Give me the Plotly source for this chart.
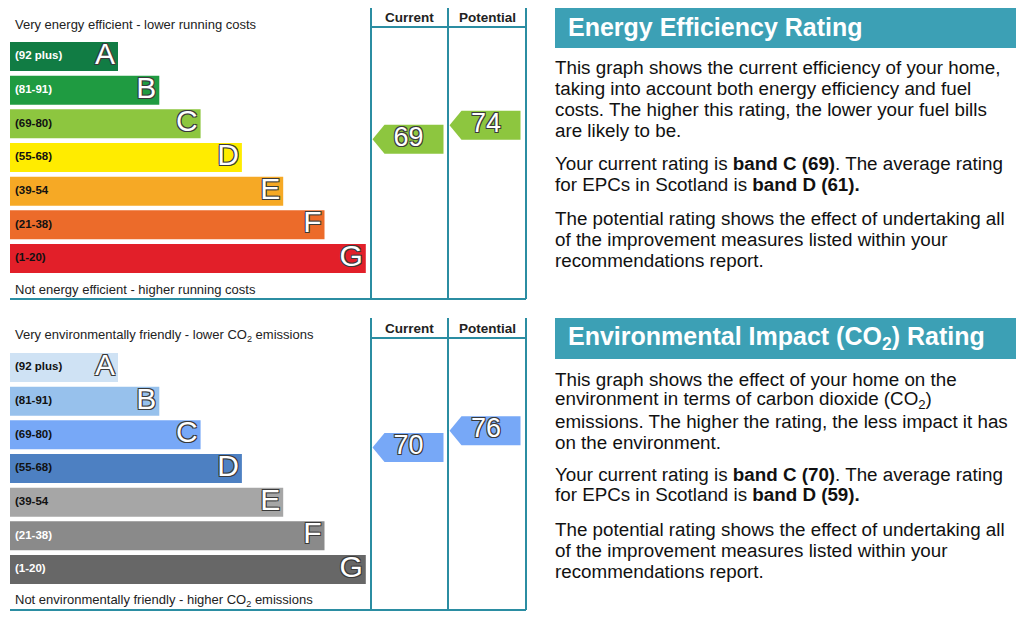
import plotly.graph_objects as go

FONT = "Liberation Sans, Arial, sans-serif"

# ---- data ----
BANDS = ["A", "B", "C", "D", "E", "F", "G"]
BAND_RANGES = ["(92 plus)", "(81-91)", "(69-80)", "(55-68)", "(39-54", "(21-38)", "(1-20)"]
BAND_LOW = [92, 81, 69, 55, 39, 21, 1]
BAND_HIGH = [100, 91, 80, 68, 54, 38, 20]

EE_COLORS = ["#117c44", "#1f9b41", "#8dc63f", "#ffec00", "#f6a925", "#ec6b2a", "#e21f29"]
EE_LABEL_COLORS = ["white", "white", "#111", "#111", "#111", "#111", "#111"]
EI_COLORS = ["#cfe2f4", "#97c1ec", "#77a8f7", "#4d80c2", "#a6a6a6", "#8a8a8a", "#676767"]
EI_LABEL_COLORS = ["#111", "#111", "#111", "#111", "#111", "white", "white"]

EE_CURRENT, EE_POTENTIAL, EE_AVERAGE = 69, 74, 61
EI_CURRENT, EI_POTENTIAL, EI_AVERAGE = 70, 76, 59

EE_TOP = "Very energy efficient - lower running costs"
EE_BOTTOM = "Not energy efficient - higher running costs"
EI_TOP = "Very environmentally friendly - lower CO<sub>2</sub> emissions"
EI_BOTTOM = "Not environmentally friendly - higher CO<sub>2</sub> emissions"

EE_TITLE = "Energy Efficiency Rating"
EI_TITLE = "Environmental Impact (CO<sub>2</sub>) Rating"

EE_TEXT = [
    "This graph shows the current efficiency of your home,",
    "taking into account both energy efficiency and fuel",
    "costs. The higher this rating, the lower your fuel bills",
    "are likely to be.",
    f"Your current rating is <b>band C ({EE_CURRENT})</b>. The average rating",
    f"for EPCs in Scotland is <b>band D ({EE_AVERAGE}).</b>",
    "The potential rating shows the effect of undertaking all",
    "of the improvement measures listed within your",
    "recommendations report.",
]
EI_TEXT = [
    "This graph shows the effect of your home on the",
    "environment in terms of carbon dioxide (CO<sub>2</sub>)",
    "emissions. The higher the rating, the less impact it has",
    "on the environment.",
    f"Your current rating is <b>band C ({EI_CURRENT})</b>. The average rating",
    f"for EPCs in Scotland is <b>band D ({EI_AVERAGE}).</b>",
    "The potential rating shows the effect of undertaking all",
    "of the improvement measures listed within your",
    "recommendations report.",
]

# ---- layout constants (page pixels) ----
P = 8                  # default body margin of the page
W, H = 1024 - P, 620 - P
SHIFT = 311            # second block sits this far below the first
BAR_TOP, STEP, BAR_H = 42, 33.67, 29
LINE_COL = "#2b8da2"
BANNER_COL = "#3ca0b5"
OUTLINE = "-1px -1px 0 #3a3a3a, 1px -1px 0 #3a3a3a, -1px 1px 0 #3a3a3a, 1px 1px 0 #3a3a3a"
CUR_COL = (361, 438)   # x units (page px - 10)
POT_COL = (438, 516)


def fx(px):
    return (px - P) / W


def fy(py):
    return 1 - (py - P) / H


def ypx(py):
    """pixel row (inside a block) -> band units"""
    return (py - (BAR_TOP - (STEP - BAR_H) / 2)) / STEP


def rating_pos(v):
    for i, (lo, hi) in enumerate(zip(BAND_LOW, BAND_HIGH)):
        if lo <= v <= hi:
            return i + (hi - v + 0.5) / (hi - lo + 1)
    return 0


fig = go.Figure()
half = BAR_H / STEP / 2
lengths = [108 + 41.3 * i for i in range(len(BANDS))]
centers = [i + 0.5 for i in range(len(BANDS))]

blocks = [
    ("x", "y", EE_COLORS, EE_LABEL_COLORS, EE_CURRENT, EE_POTENTIAL, EE_COLORS[2], EE_TOP, EE_BOTTOM),
    ("x2", "y2", EI_COLORS, EI_LABEL_COLORS, EI_CURRENT, EI_POTENTIAL, EI_COLORS[2], EI_TOP, EI_BOTTOM),
]

annotations = []
shapes = []
for k, (xa, ya, cols, lab_cols, cur, pot, arrow_col, top_txt, bot_txt) in enumerate(blocks):
    fig.add_trace(go.Bar(
        x=lengths, y=centers, orientation="h", width=BAR_H / STEP,
        marker=dict(color=cols, line=dict(width=0)), xaxis=xa, yaxis=ya, hoverinfo="skip",
    ))
    fig.add_trace(go.Scatter(
        x=[5] * len(BANDS), y=centers, mode="text", text=BAND_RANGES,
        textposition="middle right", xaxis=xa, yaxis=ya, hoverinfo="skip",
        textfont=dict(family=FONT, size=11.5, color=lab_cols, weight="bold"),
    ))
    fig.add_trace(go.Scatter(
        x=[L - 3 for L in lengths], y=centers, mode="text", text=BANDS,
        textposition="middle left", xaxis=xa, yaxis=ya, hoverinfo="skip",
        textfont=dict(family=FONT, size=30, color="white", shadow=OUTLINE),
    ))
    # current / potential arrows
    for (c0, c1), val in [(CUR_COL, cur), (POT_COL, pot)]:
        yc = rating_pos(val)
        tip, body, right = c0 + 1.5, c0 + 13.5, c0 + 72.5
        fig.add_trace(go.Scatter(
            x=[tip, body, right, right, body, tip], y=[yc, yc - half, yc - half, yc + half, yc + half, yc],
            mode="lines", fill="toself", fillcolor=arrow_col, line=dict(width=0),
            xaxis=xa, yaxis=ya, hoverinfo="skip",
        ))
        fig.add_trace(go.Scatter(
            x=[(c0 + c1) / 2 - 1], y=[yc], mode="text", text=[str(val)], textposition="middle center",
            xaxis=xa, yaxis=ya, hoverinfo="skip",
            textfont=dict(family=FONT, size=27, color="white", shadow=OUTLINE),
        ))
    # frame of the current / potential columns
    for xv in (CUR_COL[0], POT_COL[0], POT_COL[1]):
        shapes.append(dict(type="line", xref=xa, yref=ya, x0=xv, x1=xv, y0=ypx(7), y1=ypx(299),
                           line=dict(color=LINE_COL, width=2)))
    shapes.append(dict(type="line", xref=xa, yref=ya, x0=CUR_COL[0], x1=POT_COL[1], y0=ypx(27), y1=ypx(27),
                       line=dict(color=LINE_COL, width=2)))
    shapes.append(dict(type="line", xref=xa, yref=ya, x0=0, x1=POT_COL[1], y0=ypx(299), y1=ypx(299),
                       line=dict(color=LINE_COL, width=2)))
    for (c0, c1), lab in [(CUR_COL, "Current"), (POT_COL, "Potential")]:
        annotations.append(dict(xref=xa, yref=ya, x=(c0 + c1) / 2, y=ypx(17), text=f"<b>{lab}</b>",
                                showarrow=False, font=dict(family=FONT, size=13.5, color="#222")))
    annotations.append(dict(xref=xa, yref=ya, x=3, y=ypx(24), text=top_txt, xanchor="left",
                            showarrow=False, font=dict(family=FONT, size=13, color="#222")))
    annotations.append(dict(xref=xa, yref=ya, x=3, y=ypx(289), text=bot_txt, xanchor="left",
                            showarrow=False, font=dict(family=FONT, size=13, color="#222")))

# right-hand explanation panels
line_rows = [68, 89, 110, 131, 163, 184, 218, 239, 260]
for k, (title, lines) in enumerate([(EE_TITLE, EE_TEXT), (EI_TITLE, EI_TEXT)]):
    off = k * SHIFT
    shapes.append(dict(type="rect", xref="paper", yref="paper", x0=fx(555), x1=fx(1018),
                       y0=fy(48 + off), y1=fy(7 + off + (P - 7 if k == 0 else 0)),
                       fillcolor=BANNER_COL, line=dict(width=0)))
    annotations.append(dict(xref="paper", yref="paper", x=fx(566), y=fy(27 + off), text=f"<b>{title}</b>",
                            xanchor="left", yanchor="middle", showarrow=False,
                            font=dict(family=FONT, size=25, color="white")))
    for row, txt in zip(line_rows, lines):
        annotations.append(dict(xref="paper", yref="paper", x=fx(553), y=fy(row + off), text=txt,
                                xanchor="left", yanchor="middle", showarrow=False,
                                font=dict(family=FONT, size=18.8, color="#111")))

ax = dict(visible=False, fixedrange=True, showgrid=False, zeroline=False)
fig.update_layout(
    width=W, height=H, margin=dict(l=0, r=0, t=0, b=0),
    paper_bgcolor="white", plot_bgcolor="white", showlegend=False,
    xaxis=dict(ax, domain=[fx(8), fx(530)], range=[-2, 520]),
    yaxis=dict(ax, domain=[fy(302), fy(8)], range=[ypx(302), ypx(8)]),
    xaxis2=dict(ax, domain=[fx(8), fx(530)], range=[-2, 520]),
    yaxis2=dict(ax, domain=[fy(302 + SHIFT), fy(4 + SHIFT)], range=[ypx(302), ypx(4)]),
    shapes=shapes, annotations=annotations,
)

fig.write_html("out.html")
